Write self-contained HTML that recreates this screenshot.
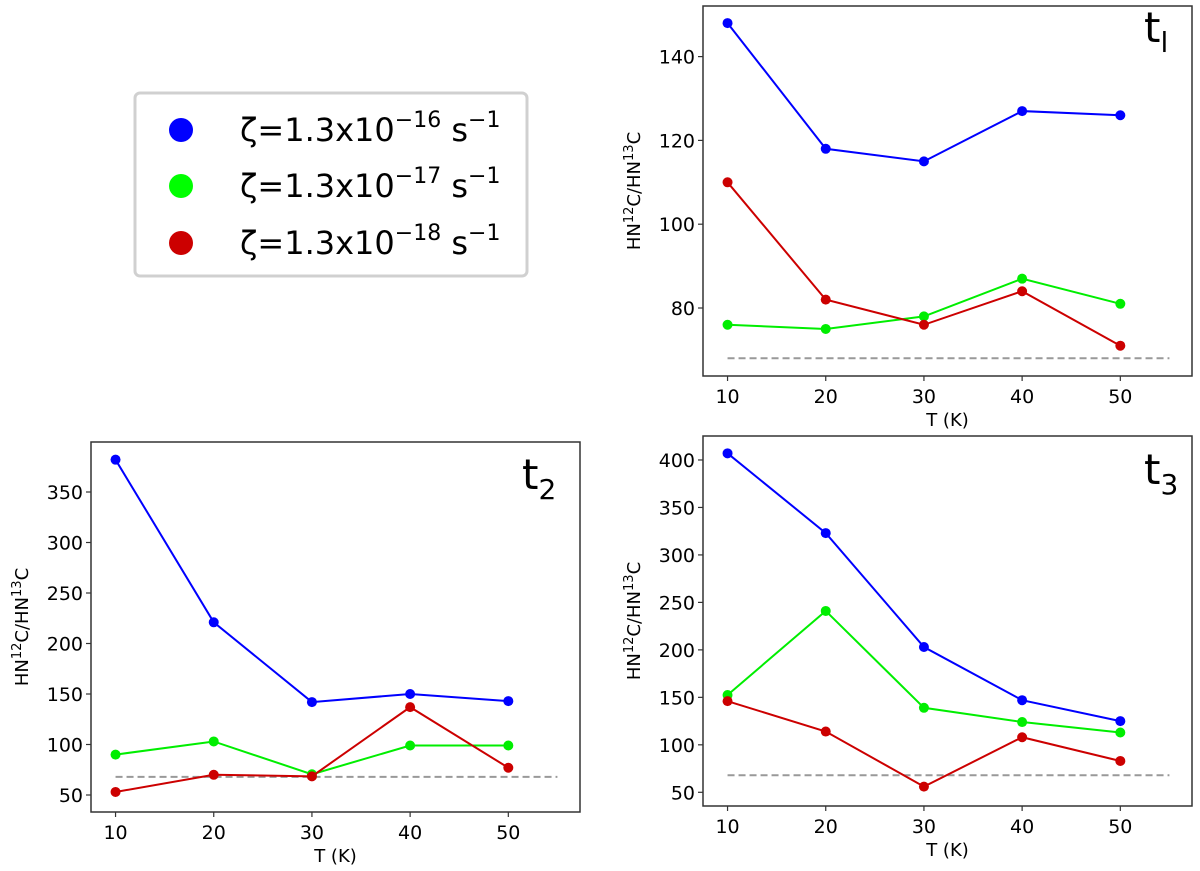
<!DOCTYPE html>
<html><head><meta charset="utf-8"><style>
body{margin:0;background:#fff;}
svg{display:block;font-family:"DejaVu Sans","Liberation Sans",sans-serif;}
</style></head><body>
<svg id="fig" width="1200" height="871" viewBox="0 0 1200 871" xmlns="http://www.w3.org/2000/svg">
<g>
<rect x="135" y="93" width="392" height="183" rx="5" fill="#fff" stroke="#d0d0d0" stroke-width="3"/>
<g><circle cx="181" cy="130" r="12" fill="#0000ff"/><text x="240" y="141" font-size="32">ζ=1.3x10<tspan dy="-14" font-size="22">−16</tspan><tspan dy="14"> s</tspan><tspan dy="-14" font-size="22">−1</tspan></text></g>
<g><circle cx="181" cy="186" r="12" fill="#00ff00"/><text x="240" y="197" font-size="32">ζ=1.3x10<tspan dy="-14" font-size="22">−17</tspan><tspan dy="14"> s</tspan><tspan dy="-14" font-size="22">−1</tspan></text></g>
<g><circle cx="181" cy="243" r="12" fill="#cc0000"/><text x="240" y="254" font-size="32">ζ=1.3x10<tspan dy="-14" font-size="22">−18</tspan><tspan dy="14"> s</tspan><tspan dy="-14" font-size="22">−1</tspan></text></g>
</g>
</svg>
<script>
const temps = [10, 20, 30, 40, 50];
const xTicks = [10, 20, 30, 40, 50];
const refRatio = 68;
const t1Blue = [148, 118, 115, 127, 126];
const t1Green = [76, 75, 78, 87, 81];
const t1Red = [110, 82, 76, 84, 71];
const t1Ticks = [80, 100, 120, 140];
const t2Blue = [382, 221, 142, 150, 143];
const t2Green = [90, 103, 70.5, 99, 99];
const t2Red = [53, 70, 68.5, 137, 77];
const t2Ticks = [50, 100, 150, 200, 250, 300, 350];
const t3Blue = [407, 323, 203, 147, 125];
const t3Green = [152.5, 241, 139, 124, 113];
const t3Red = [146, 114, 56, 108, 83];
const t3Ticks = [50, 100, 150, 200, 250, 300, 350, 400];

const NS = 'http://www.w3.org/2000/svg';
const fig = document.getElementById('fig');
function mk(tag, attrs, parent){const e=document.createElementNS(NS,tag);for(const k in attrs)e.setAttribute(k,attrs[k]);(parent||fig).appendChild(e);return e;}

function panel(p){
  const g = mk('g',{});
  
  
  const xmin=7.5, xmax=57.3;
  const sx = v => p.x0 + (v-xmin)/(xmax-xmin)*(p.x1-p.x0);
  const sy = v => p.y0 + (p.ymax - v)/(p.ymax-p.ymin)*(p.y1-p.y0);
  mk('rect',{x:p.x0,y:p.y0,width:p.x1-p.x0,height:p.y1-p.y0,fill:'none',stroke:'#333','stroke-width':1.5},g);
  xTicks.forEach(t=>{
    mk('line',{x1:sx(t),x2:sx(t),y1:p.y1,y2:p.y1+5,stroke:'#333','stroke-width':1.2},g);
    const tx=mk('text',{x:sx(t),y:p.y1+27,'font-size':19,'text-anchor':'middle',fill:'#000'},g);
    tx.textContent=t;
    
    
  });
  p.ticks.forEach(t=>{
    mk('line',{x1:p.x0-5,x2:p.x0,y1:sy(t),y2:sy(t),stroke:'#333','stroke-width':1.2},g);
    const tx=mk('text',{x:p.x0-8,y:sy(t)+7,'font-size':19,'text-anchor':'end',fill:'#000'},g);
    tx.textContent=t;
    
    
  });
  const xl=mk('text',{x:(p.x0+p.x1)/2,y:p.y1+50,'font-size':18,'text-anchor':'middle'},g);
  xl.textContent='T (K)';
  
  
  const yl=mk('text',{transform:`translate(${p.ylx},${(p.y0+p.y1)/2}) rotate(-90)`,'font-size':18,'text-anchor':'middle'},g);
  yl.innerHTML='HN<tspan dy="-7" font-size="13">12</tspan><tspan dy="7">C/HN</tspan><tspan dy="-7" font-size="13">13</tspan><tspan dy="7">C</tspan>';
  
  
  const dl=mk('line',{x1:sx(10),x2:sx(55),y1:sy(refRatio),y2:sy(refRatio),stroke:'#999','stroke-width':2,'stroke-dasharray':'7,4'},g);
  
  
  p.series.forEach(s=>{
    const pl=mk('polyline',{points:temps.map((t,i)=>sx(t)+','+sy(s.v[i])).join(' '),fill:'none',stroke:s.c,'stroke-width':2},g);
    
    
    temps.forEach((t,i)=>{
      const c=mk('circle',{cx:sx(t),cy:sy(s.v[i]),r:5,fill:s.c},g);
      
      
    });
  });
  const lab=mk('text',{x:p.lx,y:p.ly,'font-size':42,fill:'#000'},g);
  lab.innerHTML='t<tspan dy="10" font-size="28">'+p.sub+'</tspan>';
  
  
}
panel({name:'panel-t1',x0:703,x1:1192,y0:6,y1:376,ymin:80-(376-308)/4.19,ymax:80+(308-6)/4.19,ticks:t1Ticks,ylx:640,lx:1144,ly:42,sub:'l',
  series:[{n:'blue',c:'#0000ff',v:t1Blue},{n:'green',c:'#00ee00',v:t1Green},{n:'red',c:'#cc0000',v:t1Red}]});
panel({name:'panel-t2',x0:91,x1:580,y0:442,y1:812,ymin:50-(812-795)/1.01,ymax:50+(795-442)/1.01,ticks:t2Ticks,ylx:28,lx:522,ly:489,sub:'2',
  series:[{n:'blue',c:'#0000ff',v:t2Blue},{n:'green',c:'#00ee00',v:t2Green},{n:'red',c:'#cc0000',v:t2Red}]});
panel({name:'panel-t3',x0:703,x1:1192,y0:436,y1:806,ymin:50-(806-792.3)/0.9495,ymax:50+(792.3-436)/0.9495,ticks:t3Ticks,ylx:640,lx:1144,ly:484,sub:'3',
  series:[{n:'blue',c:'#0000ff',v:t3Blue},{n:'green',c:'#00ee00',v:t3Green},{n:'red',c:'#cc0000',v:t3Red}]});
</script>
</body></html>
